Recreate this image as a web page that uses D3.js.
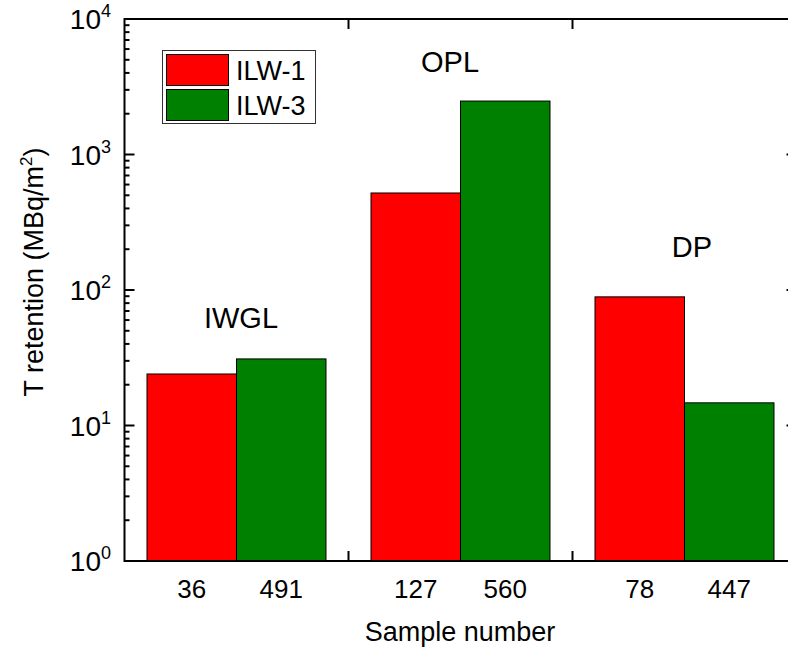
<!DOCTYPE html>
<head>
  <meta charset="utf-8">
  <style>
    body { margin: 0; background: #fff; }
    svg { display: block; font-family: "Liberation Sans", Arial, sans-serif; }
  </style>
  <script src="https://cdn.jsdelivr.net/npm/d3@7/dist/d3.min.js"></script>
</head>
<body>
<div id="chart"></div>
<script>
// values
const groups = ['IWGL', 'OPL', 'DP']
const series = ['ILW-1', 'ILW-3']
const sample_ids = [['36', '491'], ['127', '560'], ['78', '447']]
const ilw1 = [24, 520, 89]
const ilw3 = [31, 2480, 14.7]
const colors = ['#ff0000', '#008000']
const y_title = 'T retention (MBq/m'
const x_title = 'Sample number'

const width = 788, height = 652
const m_left = 124.5, m_right = 796.5, m_top = 19, m_bottom = 561

const svg = d3.select('#chart').append('svg')
  .attr('width', width).attr('height', height)
  .attr('viewBox', [0, 0, width, height])

const x0 = d3.scaleBand().domain(groups).range([m_left, m_right])
const x1 = d3.scaleBand().domain(series).range([0, x0.bandwidth()]).paddingOuter(0.2514)
const y = d3.scaleLog().domain([1, 1e4]).range([m_bottom, m_top])

const rows = groups.map((g, i) => ({ group: g, values: [ilw1[i], ilw3[i]], ids: sample_ids[i] }))

// bars
const g_bars = svg.append('g')
rows.forEach(r => {
  g_bars.selectAll(null).data(r.values).join('rect')
    .attr('x', (d, j) => x0(r.group) + x1(series[j]))
    .attr('y', d => y(d))
    .attr('width', x1.bandwidth())
    .attr('height', d => y(1) - y(d))
    .attr('fill', (d, j) => colors[j])
    .attr('stroke', '#000').attr('stroke-width', 1)
})

// frame
const frame = svg.append('g').attr('stroke', '#000').attr('stroke-width', 2).attr('fill', 'none')
frame.append('path').attr('d', `M${m_left},${m_top}H${m_right}V${m_bottom}H${m_left}Z`)

// y ticks, inward on both sides
const y_ticks = y.ticks()
const is_major = v => Math.abs(Math.log10(v) - Math.round(Math.log10(v))) < 1e-9
frame.selectAll('.ytl').data(y_ticks).join('line')
  .attr('x1', m_left).attr('x2', d => m_left + (is_major(d) ? 10 : 5))
  .attr('y1', d => y(d)).attr('y2', d => y(d))
frame.selectAll('.ytr').data(y_ticks).join('line')
  .attr('x1', m_right).attr('x2', d => m_right - (is_major(d) ? 10 : 5))
  .attr('y1', d => y(d)).attr('y2', d => y(d))

// x ticks between groups, inward top and bottom
const bounds = groups.slice(1).map(g => x0(g))
frame.selectAll('.xtb').data(bounds).join('line')
  .attr('x1', d => d).attr('x2', d => d).attr('y1', m_bottom).attr('y2', m_bottom - 10)
frame.selectAll('.xtt').data(bounds).join('line')
  .attr('x1', d => d).attr('x2', d => d).attr('y1', m_top).attr('y2', m_top + 10)

// y tick labels 10^n
const majors = y_ticks.filter(is_major)
const ylab = svg.append('g').selectAll('text').data(majors).join('text')
  .attr('x', 111).attr('y', d => y(d) + 10)
  .attr('text-anchor', 'end').attr('font-size', 28)
ylab.append('tspan').text('10')
ylab.append('tspan').attr('font-size', 18).attr('dy', -12).text(d => Math.round(Math.log10(d)))

// x tick labels (sample numbers)
rows.forEach(r => {
  svg.append('g').selectAll('text').data(r.ids).join('text')
    .attr('x', (d, j) => x0(r.group) + x1(series[j]) + x1.bandwidth() / 2)
    .attr('y', 598).attr('text-anchor', 'middle').attr('font-size', 26)
    .text(d => d)
})

// group labels
const label_pos = [[241, 328], [450, 72], [692, 257]]
svg.append('g').selectAll('text').data(groups).join('text')
  .attr('x', (d, i) => label_pos[i][0]).attr('y', (d, i) => label_pos[i][1])
  .attr('text-anchor', 'middle').attr('font-size', 29)
  .text(d => d)

// axis titles
svg.append('text').attr('x', 460).attr('y', 641).attr('text-anchor', 'middle')
  .attr('font-size', 27).text(x_title)
const yt = svg.append('text').attr('transform', 'translate(43,272) rotate(-90)')
  .attr('text-anchor', 'middle').attr('font-size', 27)
yt.append('tspan').text(y_title)
yt.append('tspan').attr('font-size', 17).attr('dy', -11).text('2')
yt.append('tspan').attr('dy', 11).text(')')

// legend
const lg = svg.append('g')
lg.append('rect').attr('x', 162.5).attr('y', 50.5).attr('width', 153).attr('height', 73)
  .attr('fill', '#fff').attr('stroke', '#333').attr('stroke-width', 1)
series.forEach((s, i) => {
  lg.append('rect').attr('x', 166.5).attr('y', 54.5 + i * 35).attr('width', 62).attr('height', 31)
    .attr('fill', colors[i]).attr('stroke', '#000').attr('stroke-width', 1)
  lg.append('text').attr('x', 236).attr('y', 79.5 + i * 35).attr('font-size', 27).text(s)
})
</script>
</body>
